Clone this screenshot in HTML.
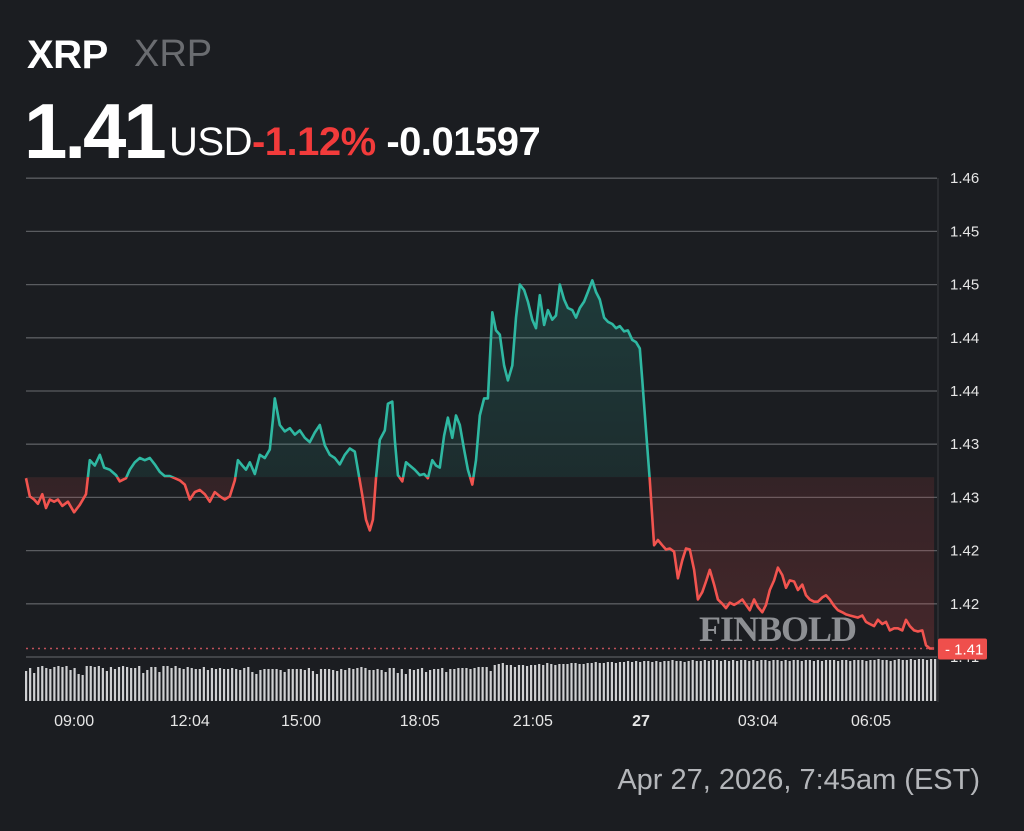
<!DOCTYPE html>
<html><head><meta charset="utf-8">
<style>
html,body{margin:0;padding:0;background:#1b1d21;}
body{width:1024px;height:831px;overflow:hidden;position:relative;font-family:"Liberation Sans",sans-serif;}
.t{position:absolute;white-space:nowrap;}
</style></head>
<body>
<div class="t" style="left:27px;top:33px;font-size:40px;font-weight:bold;color:#fff;letter-spacing:-0.5px">XRP</div>
<div class="t" style="left:134px;top:33px;font-size:38px;color:#6a6c70">XRP</div>
<div class="t" style="left:24px;top:86px;font-size:78px;font-weight:bold;color:#fff;letter-spacing:-3px">1.41</div>
<div class="t" style="left:169px;top:120px;font-size:40px;color:#fff;letter-spacing:-0.5px"><span>USD</span><span style="color:#f23b3b;font-weight:bold">-1.12%</span><span style="font-weight:bold"> -0.01597</span></div>
<div class="t" style="right:44px;top:764px;font-size:29px;color:#b4b6ba">Apr 27, 2026, 7:45am (EST)</div>
<svg id="chart" width="1024" height="831" style="position:absolute;left:0;top:0"></svg>
<div class="t" style="left:699px;top:608px;font-family:'Liberation Serif',serif;font-size:36px;font-weight:bold;color:#9a9ca0;letter-spacing:-1px;opacity:.9">FINBOLD</div>
<script>
const prices=[1.4268,1.4251,1.4248,1.4244,1.4253,1.4240,1.4248,1.4246,1.4248,1.4242,1.4246,1.4236,1.4243,1.4253,1.4285,1.4280,1.4290,1.4278,1.4276,1.4271,1.4265,1.4268,1.4276,1.4283,1.4287,1.4285,1.4287,1.4281,1.4274,1.4270,1.4270,1.4268,1.4266,1.4262,1.4248,1.4255,1.4257,1.4253,1.4246,1.4255,1.4251,1.4248,1.4251,1.4266,1.4285,1.4280,1.4276,1.4283,1.4272,1.4290,1.4287,1.4295,1.4323,1.4343,1.4318,1.4312,1.4315,1.4309,1.4313,1.4306,1.4302,1.4311,1.4318,1.4299,1.4290,1.4287,1.4281,1.4290,1.4296,1.4293,1.4276,1.4252,1.4229,1.4219,1.4229,1.4268,1.4304,1.4313,1.4338,1.4340,1.4304,1.4271,1.4265,1.4283,1.4280,1.4276,1.4271,1.4272,1.4268,1.4285,1.4280,1.4278,1.4308,1.4325,1.4306,1.4327,1.4318,1.4295,1.4276,1.4262,1.4285,1.4327,1.4343,1.4343,1.4424,1.4407,1.4403,1.4374,1.4360,1.4374,1.4419,1.4450,1.4445,1.4434,1.4417,1.4409,1.4440,1.4412,1.4426,1.4417,1.4421,1.4450,1.4436,1.4428,1.4426,1.4419,1.4428,1.4434,1.4443,1.4454,1.4443,1.4436,1.4419,1.4415,1.4413,1.4409,1.4411,1.4406,1.4407,1.4398,1.4396,1.4390,1.4360,1.4313,1.4266,1.4205,1.4210,1.4205,1.4201,1.4202,1.4199,1.4174,1.4191,1.4202,1.4201,1.4182,1.4154,1.4161,1.4171,1.4182,1.4168,1.4154,1.4150,1.4146,1.4151,1.4149,1.4151,1.4154,1.4149,1.4144,1.4154,1.4147,1.4142,1.4149,1.4163,1.4172,1.4184,1.4177,1.4165,1.4172,1.4171,1.4163,1.4168,1.4158,1.4154,1.4152,1.4152,1.4156,1.4158,1.4154,1.4148,1.4144,1.4142,1.4140,1.4139,1.4138,1.4137,1.4139,1.4133,1.4131,1.4129,1.4135,1.4131,1.4133,1.4125,1.4127,1.4127,1.4125,1.4135,1.4129,1.4125,1.4124,1.4125,1.4111,1.4108,1.4108];
const minutes=[0,6,13,19,26,32,38,45,51,58,67,77,86,96,102,110,118,125,134,144,150,160,166,174,182,190,198,206,214,222,230,238,246,254,262,270,278,286,294,302,310,318,326,334,339,346,352,358,366,374,382,390,395,398,406,414,422,430,438,446,454,462,470,478,486,494,502,510,518,526,531,538,544,550,555,560,566,574,579,586,590,595,602,608,614,622,630,637,643,650,656,662,669,675,682,688,694,701,707,714,720,726,733,739,746,752,758,765,771,778,784,790,797,803,810,816,822,829,835,842,848,854,861,867,874,880,886,893,899,906,912,918,925,931,938,944,950,957,963,970,976,982,986,992,998,1005,1011,1018,1024,1030,1037,1043,1050,1056,1062,1069,1075,1082,1088,1094,1101,1107,1114,1120,1126,1133,1139,1146,1152,1158,1165,1171,1178,1184,1190,1197,1203,1210,1216,1222,1229,1235,1242,1248,1254,1261,1267,1274,1280,1286,1293,1299,1306,1312,1318,1325,1331,1338,1344,1350,1357,1363,1370,1376,1382,1389,1395,1402,1408,1414,1421,1427,1434,1440,1446,1453];
const timeSpan=1456;
const basePrice=1.4269;
const lastPrice=1.4108;
const gridValues=[1.455,1.45,1.445,1.44,1.435,1.43,1.425,1.42,1.415,1.41];
const gridLabels=["1.46","1.45","1.45","1.44","1.44","1.43","1.43","1.42","1.42","1.41"];
const timeLabels=["09:00","12:04","15:00","18:05","21:05","27","03:04","06:05"];
const timeLabelMinutes=[77,262,440,630,811,984,1171,1352];
const volumes=[30,33,28,34,35,33,32,34,35,34,35,31,33,27,26,35,35,34,35,33,30,34,32,34,35,34,33,33,35,28,31,34,34,29,35,35,33,35,33,32,34,33,32,32,34,31,33,32,33,32,32,33,32,31,33,34,29,27,31,32,32,32,32,31,29,32,32,32,32,31,33,30,27,32,32,32,31,30,32,31,33,32,33,34,33,31,31,32,31,29,33,33,28,32,27,32,31,32,33,29,31,32,32,33,29,32,32,33,33,33,32,33,34,34,34,30,36,37,38,36,36,34,36,36,35,36,36,37,36,38,37,36,37,37,37,38,38,37,37,38,38,39,38,38,39,39,38,39,39,40,39,40,39,40,40,39,40,39,40,40,41,40,40,39,40,41,40,40,41,40,41,41,40,41,40,41,40,41,41,40,41,40,41,41,40,41,41,40,41,40,41,41,40,41,41,40,41,40,41,41,41,40,41,41,40,41,41,41,40,41,41,42,41,41,40,41,42,41,41,42,41,42,42,41,42,42];
const NS="http://www.w3.org/2000/svg";
const svg=document.getElementById('chart');
const X0=26,X1=937,Y_TOP=178,PX_PER_STEP=53.2;
function yScale(v){return 657-(v-1.41)/0.005*PX_PER_STEP;}
function xTime(m){return X0+(936-X0)*m/timeSpan;}
function mk(tag,attrs){const e=document.createElementNS(NS,tag);for(const k in attrs)e.setAttribute(k,attrs[k]);svg.appendChild(e);return e;}
const defs=mk('defs',{});
defs.innerHTML='<linearGradient id="gU" x1="0" y1="0" x2="0" y2="1"><stop offset="0" stop-color="#2ab39f" stop-opacity="0.2"/><stop offset="1" stop-color="#2ab39f" stop-opacity="0.02"/></linearGradient><linearGradient id="gD" x1="0" y1="0" x2="0" y2="1"><stop offset="0" stop-color="#f05050" stop-opacity="0.02"/><stop offset="1" stop-color="#f05050" stop-opacity="0.2"/></linearGradient>';
const by=yScale(basePrice);
defs.innerHTML+='<clipPath id="cU"><rect x="0" y="0" width="1024" height="'+by+'"/></clipPath><clipPath id="cD"><rect x="0" y="'+by+'" width="1024" height="'+(831-by)+'"/></clipPath>';
gridValues.forEach((v,i)=>{
  const y=yScale(v);
  const g=mk('line',{x1:X0,x2:X1,y1:y,y2:y,stroke:'#5a5c60','stroke-width':1.3});
  
  
  const t=mk('text',{x:950,y:y+5,fill:'#e6e6e6','font-size':15,'font-family':'Liberation Sans, sans-serif'});
  t.textContent=gridLabels[i];
  
  
});
const vr=mk('line',{x1:X1+1,x2:X1+1,y1:Y_TOP,y2:702,stroke:'#3a3c40','stroke-width':1});


const vBase=701;
volumes.forEach((v,i)=>{
  const x=X0+(X1-X0-2)*i/(volumes.length-1);
  const r=mk('rect',{x:x-1,y:vBase-v,width:2.2,height:v,fill:'#cfd0d2'});
  
  
});
const n=Math.min(prices.length,minutes.length);
const pts=[];
for(let i=0;i<n;i++)pts.push([xTime(minutes[i]),yScale(prices[i])]);
const lineD='M'+pts.map(p=>p[0].toFixed(1)+','+p[1].toFixed(1)).join('L');
const areaD=lineD+'L'+pts[n-1][0]+','+by+'L'+pts[0][0]+','+by+'Z';
const aU=mk('path',{d:areaD,fill:'url(#gU)','clip-path':'url(#cU)'});


const aD=mk('path',{d:areaD,fill:'url(#gD)','clip-path':'url(#cD)'});


const lU=mk('path',{d:lineD,fill:'none',stroke:'#2fb8a2','stroke-width':2.6,'stroke-linejoin':'round','clip-path':'url(#cU)'});


const lD=mk('path',{d:lineD,fill:'none',stroke:'#f2544f','stroke-width':2.6,'stroke-linejoin':'round','clip-path':'url(#cD)'});


const ly=yScale(lastPrice);
const dl=mk('line',{x1:X0,x2:X1,y1:ly,y2:ly,stroke:'#c0505a','stroke-width':1.5,'stroke-dasharray':'2,4'});


const lb=mk('rect',{x:938,y:ly-10,width:49,height:21,fill:'#ef4f4c',rx:2});


const lt=mk('text',{x:945,y:ly+6,fill:'#fff','font-size':15,'font-family':'Liberation Sans, sans-serif'});
lt.textContent='- '+lastPrice.toFixed(2);


timeLabels.forEach((s,i)=>{
  const t=mk('text',{x:xTime(timeLabelMinutes[i]),y:726,fill:'#e6e6e6','font-size':16,'text-anchor':'middle','font-family':'Liberation Sans, sans-serif','font-weight':s==='27'?'bold':'normal'});
  t.textContent=s;
  
  
});
</script>
</body></html>
